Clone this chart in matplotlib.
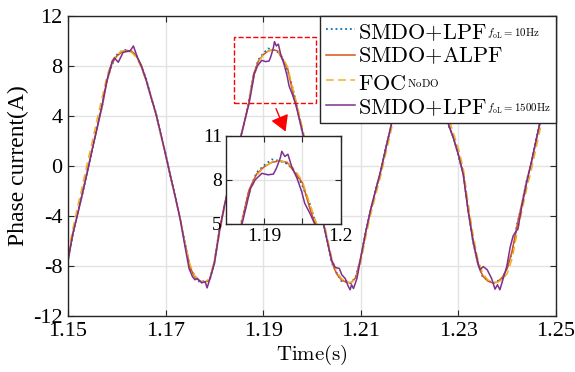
import numpy as np
import matplotlib
matplotlib.use("Agg")
import matplotlib.pyplot as plt
from matplotlib.patches import Rectangle

plt.rcParams['font.family'] = ['Liberation Serif', 'DejaVu Serif']
plt.rcParams['mathtext.fontset'] = 'cm'
plt.rcParams['axes.unicode_minus'] = False

# ---------------- data ----------------
t_start, t_end, n_samples = 1.15, 1.25, 101
time = np.linspace(t_start, t_end, n_samples)

i_lpf10 = [-7.5, -5.5, -3.7, -2.2, -0.3, 1.3, 3.2, 4.8, 6.9, 8.1,
           8.9, 9.2, 9.3, 9.1, 8.9, 8.0, 7.0, 5.5, 4.3, 2.5,
           1.0, -0.9, -2.4, -4.3, -6.2, -8.2, -8.8, -9.3, -9.2, -9.2,
           -7.7, -5.1, -3.3, -1.4, 0.0, 1.8, 3.2, 5.1, 7.2, 8.5,
           9.0, 9.4, 9.3, 9.1, 8.6, 7.6, 6.3, 4.6, 2.7, 1.2,
           -0.7, -2.2, -4.1, -5.7, -7.7, -8.5, -9.2, -9.2, -9.4, -8.8,
           -7.4, -5.2, -3.6, -1.9, -0.6, 1.3, 2.8, 4.7, 6.3, 8.0,
           8.6, 9.2, 9.2, 9.3, 8.7, 8.0, 6.5, 5.0, 3.2, 2.3,
           0.8, -0.6, -3.5, -6.1, -7.8, -8.9, -9.1, -9.4, -9.2, -9.0,
           -8.1, -6.9, -4.7, -3.1, -1.1, 0.3, 2.3, 3.9, 5.9, 7.3,
           8.5]

i_alpf = [-7.6, -5.4, -3.8, -2.1, -0.4, 1.4, 3.1, 4.8, 6.8, 8.2,
          8.8, 9.1, 9.25, 9.2, 8.8, 8.1, 6.9, 5.6, 4.2, 2.6,
          0.9, -0.8, -2.5, -4.2, -6.3, -8.1, -8.9, -9.2, -9.3, -9.1,
          -7.6, -5.2, -3.2, -1.5, 0.1, 1.7, 3.3, 5.0, 7.3, 8.4,
          8.9, 9.2, 9.3, 9.2, 8.5, 7.8, 6.0, 4.5, 2.8, 1.1,
          -0.6, -2.3, -4.0, -5.8, -7.6, -8.6, -9.1, -9.3, -9.35, -8.9,
          -7.3, -5.3, -3.5, -2.0, -0.5, 1.2, 2.9, 4.6, 6.4, 7.9,
          8.7, 9.1, 9.3, 9.2, 8.8, 7.9, 6.6, 4.9, 3.3, 2.2,
          0.9, -0.7, -3.6, -6.0, -7.9, -8.8, -9.2, -9.35, -9.3, -8.9,
          -8.2, -6.8, -4.8, -3.0, -1.2, 0.4, 2.2, 4.0, 5.8, 7.4,
          8.4]

i_foc = [-7.0, -5.0, -3.2, -1.5, 0.3, 2.0, 3.8, 5.5, 7.2, 8.4,
         8.9, 9.2, 9.2, 9.1, 8.7, 7.9, 6.8, 5.5, 4.1, 2.5,
         0.8, -0.9, -2.6, -4.3, -6.2, -7.9, -8.8, -9.2, -9.3, -9.0,
         -7.8, -5.5, -3.4, -1.6, 0.0, 1.6, 3.2, 4.9, 7.0, 8.3,
         8.9, 9.2, 9.3, 9.2, 8.7, 7.9, 6.3, 4.8, 3.1, 1.4,
         -0.3, -2.0, -3.7, -5.5, -7.3, -8.4, -9.0, -9.3, -9.3, -9.0,
         -7.7, -5.7, -3.9, -2.4, -0.9, 0.8, 2.5, 4.2, 6.0, 7.6,
         8.5, 9.0, 9.2, 9.2, 8.9, 8.2, 7.0, 5.4, 3.8, 2.6,
         1.4, -0.2, -3.0, -5.5, -7.5, -8.6, -9.1, -9.3, -9.3, -9.1,
         -8.6, -7.4, -5.4, -3.6, -1.8, -0.2, 1.6, 3.4, 5.2, 6.9,
         8.0]

t_lpf1500 = [1.150, 1.151, 1.152, 1.153, 1.154, 1.155, 1.156, 1.157, 1.158, 1.159,
             1.1595, 1.1603, 1.1613, 1.1627, 1.1634, 1.1642, 1.165, 1.166, 1.167, 1.168,
             1.169, 1.170, 1.171, 1.172, 1.173, 1.174, 1.1748, 1.1755, 1.1760, 1.1765,
             1.1774, 1.1781, 1.1785, 1.1791, 1.180, 1.181, 1.182, 1.183, 1.184, 1.185,
             1.186, 1.1871, 1.1882, 1.1888, 1.1897, 1.1905, 1.1912, 1.1916, 1.1921, 1.1923,
             1.1927, 1.1931, 1.1936, 1.1943, 1.1949, 1.1953, 1.1960, 1.1966, 1.197, 1.198,
             1.199, 1.200, 1.201, 1.202, 1.203, 1.204, 1.2047, 1.2056, 1.2061, 1.2068,
             1.2074, 1.2078, 1.2081, 1.2085, 1.2092, 1.210, 1.211, 1.212, 1.213, 1.214,
             1.215, 1.216, 1.217, 1.218, 1.219, 1.220, 1.2207, 1.2215, 1.2225, 1.2232,
             1.224, 1.225, 1.226, 1.227, 1.228, 1.229, 1.230, 1.231, 1.232, 1.233,
             1.2338, 1.2344, 1.2351, 1.2359, 1.2368, 1.2375, 1.2380, 1.2385, 1.2391, 1.2399,
             1.2406, 1.2412, 1.2422, 1.243, 1.244, 1.245, 1.246, 1.247, 1.248, 1.249,
             1.250]
i_lpf1500 = [-7.5, -5.4, -3.8, -2.1, -0.4, 1.4, 3.1, 4.9, 6.9, 8.3,
             8.65, 8.3, 9.1, 9.2, 9.6, 8.7, 8.0, 6.9, 5.5, 4.2,
             2.6, 0.9, -0.8, -2.5, -4.3, -6.5, -8.2, -8.85, -9.1, -9.0,
             -9.35, -9.25, -9.75, -9.0, -7.8, -5.3, -3.3, -1.5, 0.1, 1.7,
             3.3, 5.0, 7.4, 8.0, 8.45, 8.35, 8.4, 8.8, 9.5, 9.95,
             9.6, 9.75, 8.9, 8.1, 7.2, 6.4, 5.7, 5.0, 4.4, 2.8,
             1.1, -0.6, -2.3, -4.0, -5.8, -7.5, -8.1, -8.2, -8.7, -9.0,
             -9.6, -9.9, -9.5, -9.8, -9.0, -7.3, -5.3, -3.5, -2.0, -0.5,
             1.2, 2.9, 4.6, 6.4, 7.9, 8.6, 8.3, 9.1, 9.3, 9.7,
             8.8, 7.9, 6.6, 4.9, 3.3, 2.2, 0.9, -0.7, -3.6, -6.0,
             -7.4, -8.3, -8.05, -8.3, -9.0, -9.85, -9.5, -9.9, -9.1, -8.05,
             -6.5, -5.6, -5.0, -3.2, -1.3, 0.4, 2.2, 4.0, 5.8, 7.4,
             8.4]

labels = [r'$\mathrm{SMDO{+}LPF}_{{}^{f_{\mathrm{oL}}=10\mathrm{Hz}}}$',
          r'$\mathrm{SMDO{+}ALPF}$',
          r'$\mathrm{FOC}_{{}^{\mathrm{NoDO}}}$',
          r'$\mathrm{SMDO{+}LPF}_{{}^{f_{\mathrm{oL}}=1500\mathrm{Hz}}}$']

x_ticks = [1.15, 1.17, 1.19, 1.21, 1.23, 1.25]
y_ticks = [-12, -8, -4, 0, 4, 8, 12]
inset_x_ticks = [1.19, 1.195, 1.2]
inset_x_labels = ['1.19', '', '1.2']
inset_y_ticks = [5, 8, 11]

c_blue, c_orange, c_yellow, c_purple = '#0072BD', '#D95319', '#EDB120', '#7E2F8E'


def draw_series(ax):
    ax.plot(time, i_lpf10, ls=':', color=c_blue, lw=1.3)
    ax.plot(time, i_alpf, ls='-', color=c_orange, lw=1.1)
    ax.plot(time, i_foc, ls=(0, (5, 3)), color=c_yellow, lw=1.1)
    ax.plot(t_lpf1500, i_lpf1500, ls='-', color=c_purple, lw=1.1)


def style(ax, fs, pad):
    for s in ax.spines.values():
        s.set_color('#262626')
        s.set_linewidth(1.0)
    ax.tick_params(direction='in', top=True, right=True, length=4,
                   width=0.8, colors='#262626', labelsize=fs, labelcolor='black',
                   pad=pad)
    ax.grid(True, color='#e2e2e2', lw=1.0)
    ax.set_axisbelow(True)


fig = plt.figure(figsize=(5.75, 3.72), dpi=100)
ax = fig.add_axes([0.1183, 0.1505, 0.8487, 0.8065])
draw_series(ax)
ax.set_xlim(1.15, 1.25)
ax.set_ylim(-12, 12)
ax.set_xticks(x_ticks)
ax.set_xticklabels([f'{v:.2f}' for v in x_ticks])
ax.set_yticks(y_ticks)
ax.set_yticklabels([str(v) for v in y_ticks])
style(ax, 16, 4)
ax.set_ylabel('Phase current(A)', fontsize=17, labelpad=3)
ax.set_xlabel(r'$\mathrm{Time(s)}$', fontsize=15, labelpad=2)

ax.add_patch(Rectangle((1.184, 5.04), 0.0168, 5.26, fill=False, ls='--',
                       ec='red', lw=1.0, zorder=5))
ax.annotate('', xy=(1.1948, 2.55), xytext=(1.1924, 4.8),
            arrowprops=dict(arrowstyle='-|>,head_length=0.6,head_width=0.35',
                            color='red', lw=1.0, mutation_scale=16), zorder=6)

leg = ax.legend(labels, loc='upper right', fontsize=16, borderaxespad=0,
                fancybox=False, framealpha=1, edgecolor='#262626',
                handlelength=1.3, handletextpad=0.15, labelspacing=0.2,
                borderpad=0.25)
leg.get_frame().set_linewidth(1.0)

axi = fig.add_axes([0.393, 0.398, 0.1995, 0.2366])
draw_series(axi)
axi.set_xlim(1.185, 1.2)
axi.set_ylim(5, 11)
axi.set_xticks(inset_x_ticks)
axi.set_xticklabels(inset_x_labels)
axi.set_yticks(inset_y_ticks)
axi.set_yticklabels([str(v) for v in inset_y_ticks])
style(axi, 14, 3)

fig.savefig('out.png', dpi=100)
